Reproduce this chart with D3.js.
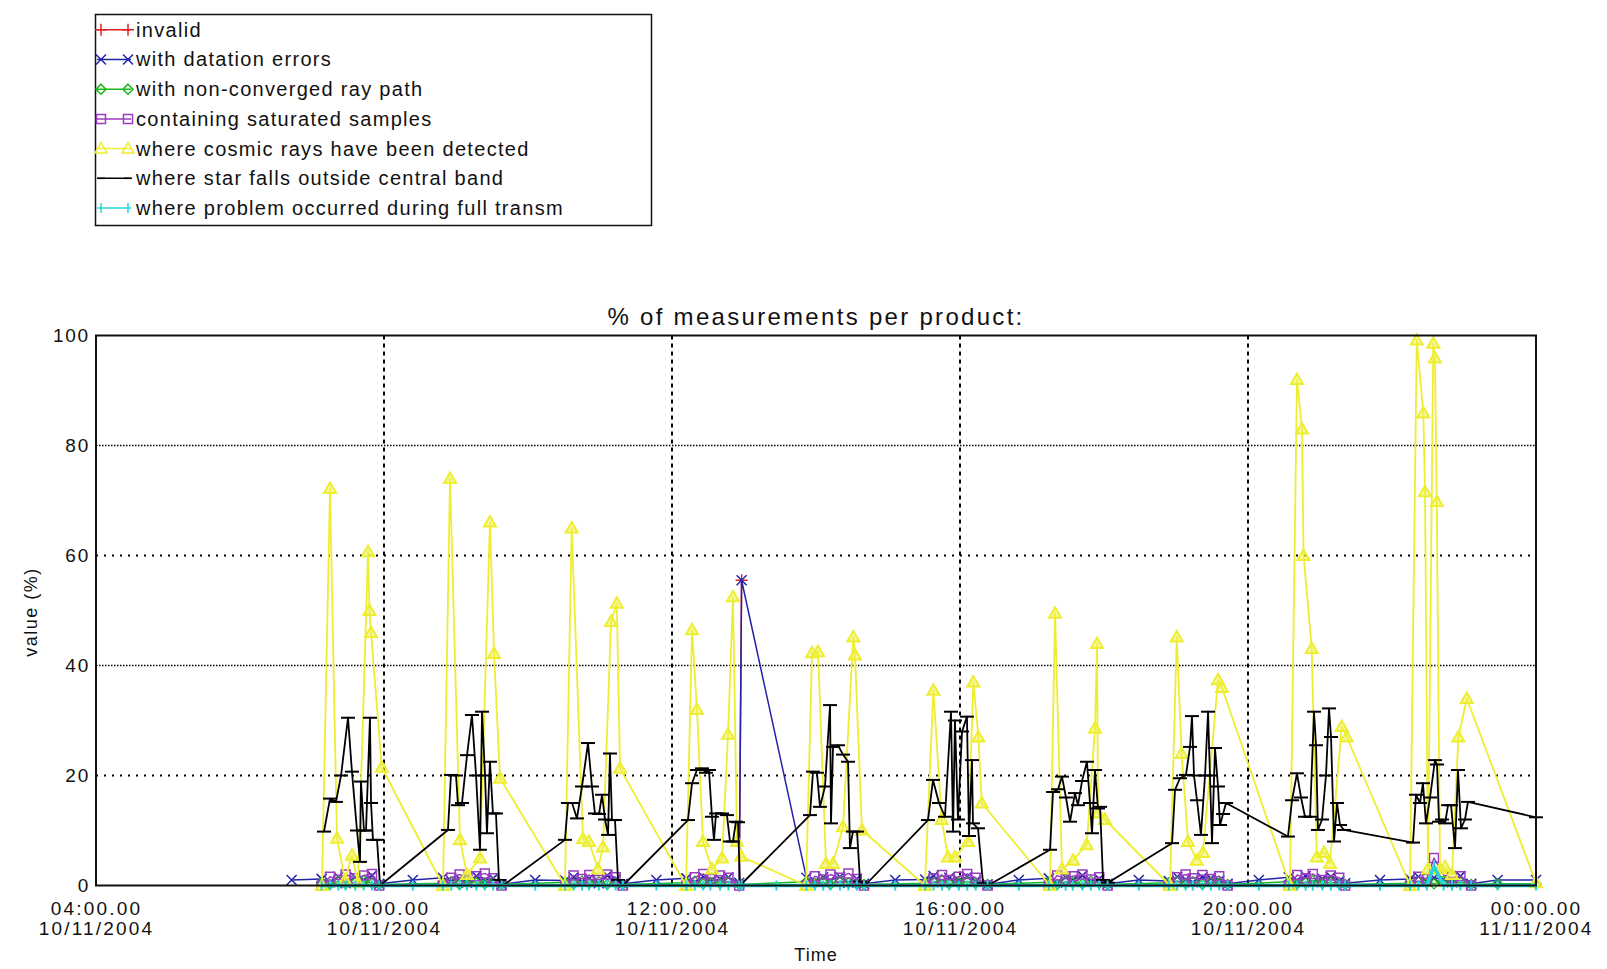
<!DOCTYPE html>
<html><head><meta charset="utf-8">
<script src="https://cdnjs.cloudflare.com/ajax/libs/d3/7.8.5/d3.min.js"></script>
<style>
html,body{margin:0;padding:0;background:#fff;}
svg{display:block;}
text{font-family:"Liberation Sans",Arial,sans-serif;fill:#111;}
</style></head><body>
<svg id="chart" width="1607" height="969"></svg>
<script>
// ---------- DATA (time = minutes of day 10/11/2004, value = %) ----------
const yTicks = [0, 20, 40, 60, 80, 100];
const xTickMinutes = [240, 480, 720, 960, 1200, 1440];
const legendLabels = [
  "invalid",
  "with datation errors",
  "with non-converged ray path",
  "containing saturated samples",
  "where cosmic rays have been detected",
  "where star falls outside central band",
  "where problem occurred during full transm"
];

// shared product times for the low-valued flags
const productTimes = [
  403,428,435,442,448,456,463,470,476,
  504,529,536,543,549,557,564,571,578,
  606,631,638,645,651,659,666,673,679,
  707,732,739,746,752,760,767,776,778,
  807,832,839,846,852,860,867,874,880,
  906,931,938,945,951,959,966,973,983,
  1009,1034,1041,1048,1054,1062,1069,1076,1083,
  1109,1134,1141,1148,1154,1162,1169,1176,1183,
  1209,1234,1241,1248,1254,1262,1269,1276,1281,
  1310,1335,1342,1349,1355,1363,1370,1377,1386,
  1408,1440
];
const invalidValues = [
  null,null,null,null,null,null,null,null,null,
  null,null,null,null,null,null,null,null,null,
  null,null,null,null,null,null,null,null,null,
  null,null,null,null,null,null,null,0,55.5,
  null,null,null,null,null,null,null,null,null,
  null,null,null,null,null,null,null,null,null,
  null,null,null,null,null,null,null,null,null,
  null,null,null,null,null,null,null,null,null,
  null,null,null,null,null,null,null,null,null,
  null,null,null,null,null,null,null,null,null,
  null,null
];
const datationValues = [
  1,1.2,0.6,1.6,0.4,1.5,1.0,1.8,0.3,
  1,1.4,0.8,1.2,0.5,1.7,0.9,1.3,0.2,
  1,0.9,1.5,0.7,1.3,0.4,1.8,1.1,0.3,
  1,1.3,0.6,1.6,0.8,1.2,1.5,0.5,55.5,
  null,1.4,0.7,1.5,0.9,1.6,0.5,1.2,0.3,
  1,1.1,1.7,0.6,1.4,0.9,1.6,0.8,0.2,
  1,1.3,0.5,1.5,1.0,1.8,0.7,1.2,0.3,
  1,0.8,1.6,1.1,0.6,1.5,1.3,0.9,0.3,
  1,1.5,0.9,1.7,0.6,1.2,1.6,0.8,0.4,
  1,1.2,1.6,0.7,1.4,1.1,0.6,1.7,0.3,
  1,1
];
const nonConvergedValues = [
  null,0.5,0.2,0.8,0.3,0.6,0.9,0.4,0.2,
  null,0.4,0.7,0.2,0.9,0.5,0.3,0.6,0.2,
  null,0.6,0.3,0.8,0.4,0.7,0.2,0.5,0.2,
  null,0.5,0.8,0.3,0.6,0.4,0.7,0.2,null,
  null,0.7,0.4,0.6,0.2,0.8,0.5,0.3,0.2,
  null,0.4,0.6,0.9,0.3,0.5,0.7,0.4,0.2,
  null,0.6,0.2,0.7,0.5,0.3,0.8,0.4,0.2,
  null,0.5,0.8,0.4,0.7,0.2,0.6,0.5,0.2,
  null,0.7,0.3,0.5,0.9,0.4,0.6,0.3,0.2,
  null,0.4,0.7,0.5,0.3,0.8,0.5,0.6,0.2,
  0.3,0.3
];
const saturatedValues = [
  null,0,1.6,1.0,2.0,1.3,1.8,2.1,0,
  null,0,1.4,2.0,1.1,1.7,2.2,1.3,0,
  null,0,1.8,1.2,1.9,1.0,2.0,1.5,0,
  null,0,1.5,2.1,1.2,1.8,1.4,0,null,
  null,0,1.7,1.1,2.0,1.4,2.2,1.2,0,
  null,0,1.3,1.9,1.0,1.6,2.1,1.4,0,
  null,0,1.8,1.2,1.7,2.0,1.1,1.5,0,
  null,0,1.5,2.0,1.3,1.9,1.2,1.7,0,
  null,0,1.9,1.3,2.1,1.0,1.8,1.4,0,
  null,0,1.6,1.2,5.0,1.9,1.4,1.7,0,
  null,null
];
const transmissionValues = [
  null,0,0,0,0,0,0,0,0,
  0,0,0,0,0,0,0,0,0,
  0,0,0,0,0,0,0,0,0,
  0,0,0,0,0,0,0,0,0,
  0,0,0,0,0,0,0,0,0,
  0,0,0,0,0,0,0,0,0,
  0,0,0,0,0,0,0,0,0,
  0,0,0,0,0,0,0,0,0,
  0,0,0,0,0,0,0,0,0,
  0,0,0,0,3.5,0,0,0,0,
  0,0
];
// [time, value]
const cosmicRays = [
  [428.3,0],[435,72.2],[440.8,8.6],[447.5,1],[453.3,5.5],[458.3,0.5],[466.7,60.7],[467.9,50],[469.2,46],[478.1,21.5],
  [529.2,0],[535,74],[543.3,8.3],[549.2,2],[560,5],[568.3,66.1],[571.7,42.2],[576.7,19.5],
  [630.8,0],[636.4,65],[645.8,8.5],[650.8,8],[658.3,3],[662.5,7],[669.2,48],[674,51.3],[676.7,21.3],
  [731.7,0],[736.7,46.5],[740.8,32],[745.8,8],[753.3,3],[761.7,5],[766.7,27.5],[770.8,52.5],[774.2,8],[777.5,5.3],
  [831.7,0],[836.7,42.3],[841.7,42.5],[848.3,4],[854.2,4],[862.5,10.7],[871.1,45.2],[872.5,41.9],[878.3,10.1],
  [930.8,0],[937.8,35.5],[944.7,12],[950,5.2],[955.8,5.2],[966.7,8],[971.1,37],[975.3,27],[978.1,15],
  [1035,0],[1039.2,49.5],[1045,3],[1054.2,4.6],[1065.6,7.4],[1072.5,28.6],[1074.2,44],[1075,13.2],[1080.8,12],
  [1135,0],[1140.6,45.2],[1144.7,24],[1150,8],[1157.3,4.6],[1162.5,6],[1175,37.4],[1178.3,36],
  [1235,0],[1240.8,92],[1245,83],[1246.3,60],[1253.1,43.1],[1257.3,5.2],[1263.3,6],[1268.3,4],[1278.1,28.9],[1282.3,27],
  [1335,0],[1340.6,99.2],[1346.1,85.9],[1347.5,71.6],[1350,3],[1354.4,98.6],[1355.8,95.9],[1357.3,69.8],[1360,3],[1364.2,3.4],[1370,2],[1375.3,27],[1382.3,34],[1440,0.5]
];
const outsideBand = [
  [430,9.8],[435,15.8],[440,15.2],[444.2,20],[450,30.5],[453.3,20.7],[457.5,10],[460,4.3],[460.8,18.9],[463.3,10],[465,10],[468.3,30.5],[469.2,15],[470.8,8.3],[474.2,8.3],[476.7,0],
  [533.3,10.1],[535.8,20.1],[540,20],[541.7,14.6],[545,15],[549.2,23.7],[553.3,31],[556.7,20],[560,6.5],[561.7,31.6],[564.2,20],[565.8,9.5],[568.3,22.5],[570.8,13.1],[573.3,13.1],[575.8,1],[579.2,0],
  [630.8,8.3],[633.3,15],[636.7,15],[640.8,12.2],[645,18],[650,25.9],[653.3,18],[655.8,13.1],[659.2,13],[661.7,16.5],[664.2,12],[666.7,9.2],[668.3,24],[670,11.9],[672.5,11.9],[675,1],[679.2,0],
  [733.3,11.9],[736.7,18.6],[740.8,21],[745,21.3],[748.3,20.5],[750.8,21],[753.3,12.5],[755,8.3],[756.7,13.1],[761.7,13.1],[765.8,12.8],[768.3,8],[770.8,8],[773.3,11.6],[775,11.5],[776.7,0],
  [835,12.8],[837.5,20.7],[840.8,20.5],[843.3,14.3],[847.5,18],[851.7,32.8],[852.5,11.3],[854.2,25.2],[858.3,25.5],[862.5,23.8],[866.7,22.5],[868.3,6.8],[870.8,9.8],[874.2,9.8],[876.7,0.7],[880.8,0],
  [933.3,11.9],[937.5,19.2],[942.5,15],[947.5,12.5],[952.5,31.6],[954.2,9.8],[955.8,30],[958.3,12],[961.7,28],[965.8,30.7],[967.5,9],[970,22.8],[970.8,11.3],[975,10.4],[979.2,0.4],[983.3,0],
  [1035,6.5],[1037.5,17],[1041.7,17.5],[1045,19.8],[1048.3,16],[1051.7,11.6],[1055.8,16.8],[1058.3,14.6],[1061.7,19],[1065.8,22.5],[1068.3,15],[1070,9.5],[1072.5,21],[1075,14],[1076.7,14.3],[1079.2,1],[1083.3,0.5],
  [1136.7,7.7],[1139.2,17.4],[1143.3,19.5],[1148.3,20.1],[1151.7,25.2],[1153.3,30.8],[1155,20],[1157.5,15.5],[1160.8,9.2],[1164.2,20],[1166.7,31.6],[1168.3,20],[1170,7.7],[1172.5,25],[1175,18],[1176.7,11],[1179.2,13],[1181.7,15],
  [1233.3,8.9],[1236.7,15.5],[1240.8,20.4],[1244.2,16],[1247.5,12.5],[1251.7,12.5],[1255,31.6],[1256.7,25.5],[1258.3,10.1],[1261.7,12],[1265,20],[1267.5,32.2],[1269.2,27],[1271.7,8],[1274.2,15],[1276.7,11],[1280,10.1],
  [1337.5,7.8],[1340,16.5],[1343.3,15],[1345.8,18.6],[1348.3,11.3],[1351.7,16],[1355.8,22.8],[1357.5,22],[1359.2,11.6],[1361.7,12],[1364.2,11.3],[1366.7,14.6],[1369.2,14.6],[1372.5,6.8],[1375,21],[1377.5,10.4],[1380.8,12],[1383.3,15.2],[1440,12.4]
];

// ---------- CHART ----------
const svg = d3.select("#chart");
const M = {left: 96, right: 1536, top: 335.5, bottom: 885.5};
const day0 = Date.UTC(2004, 10, 10);
const toDate = m => new Date(day0 + m * 60000);
const x = d3.scaleUtc().domain([toDate(240), toDate(1440)]).range([M.left, M.right]);
const y = d3.scaleLinear().domain([0, 100]).range([M.bottom, M.top]);

const shapes = {
  plus: "M-6,0H6M0,-6V6",
  cross: "M-5,-5L5,5M-5,5L5,-5",
  diamond: "M0,-5L5,0L0,5L-5,0Z",
  square: "M-4.5,-4.5H4.5V4.5H-4.5Z",
  triangle: "M0,-6L6,4.5H-6Z",
  hbar: "M-7,0H7",
  vbar: "M0,-5V5"
};

const pair = vals => productTimes.map((t, i) => [t, vals[i]]).filter(d => d[1] != null);
const series = [
  {pts: pair(invalidValues), color: "#e02020", marker: "plus", lw: 1.5, mw: 1.5, fill: "none"},
  {pts: pair(datationValues), color: "#2424a8", marker: "cross", lw: 1.5, mw: 1.5, fill: "none"},
  {pts: pair(nonConvergedValues), color: "#18b818", marker: "diamond", lw: 1.5, mw: 1.3, fill: "none"},
  {pts: pair(saturatedValues), color: "#9a3cc0", marker: "square", lw: 1.5, mw: 1.5, fill: "none"},
  {pts: cosmicRays, color: "#eeee30", marker: "triangle", lw: 1.8, mw: 2, fill: "rgba(240,240,80,0.55)"},
  {pts: outsideBand, color: "#000000", marker: "hbar", lw: 1.8, mw: 2, fill: "none"},
  {pts: pair(transmissionValues), color: "#26d4dc", marker: "vbar", lw: 3.5, mw: 2, fill: "none"}
];

// gridlines
const grid = svg.append("g");
[20, 40, 60, 80].forEach(v => {
  const dense = (v === 40 || v === 80);
  grid.append("line").attr("x1", M.left).attr("x2", M.right).attr("y1", y(v)).attr("y2", y(v))
    .attr("stroke", "#000").attr("stroke-width", dense ? 1.4 : 2)
    .attr("stroke-dasharray", dense ? "1.5,1.5" : "2,6");
});
xTickMinutes.slice(1, -1).forEach(m => {
  grid.append("line").attr("x1", x(toDate(m))).attr("x2", x(toDate(m))).attr("y1", M.top).attr("y2", M.bottom)
    .attr("stroke", "#000").attr("stroke-width", 2).attr("stroke-dasharray", "4,4");
});

// series
const line = d3.line().x(d => x(toDate(d[0]))).y(d => y(d[1]));
series.forEach(s => {
  const g = svg.append("g");
  g.append("path").datum(s.pts).attr("d", line).attr("fill", "none")
    .attr("stroke", s.color).attr("stroke-width", s.lw).attr("stroke-linejoin", "round");
  g.selectAll("path.m").data(s.pts).join("path").attr("class", "m")
    .attr("transform", d => `translate(${x(toDate(d[0]))},${y(d[1])})`)
    .attr("d", shapes[s.marker]).attr("fill", s.fill)
    .attr("stroke", s.color).attr("stroke-width", s.mw);
});

// frame
svg.append("rect").attr("x", M.left).attr("y", M.top).attr("width", M.right - M.left).attr("height", M.bottom - M.top)
  .attr("fill", "none").attr("stroke", "#111").attr("stroke-width", 2);

// axes
const yAxis = svg.append("g").attr("transform", `translate(${M.left},0)`)
  .call(d3.axisLeft(y).tickValues(yTicks).tickSize(0).tickPadding(6).tickFormat(d3.format("d")));
yAxis.select(".domain").remove();
yAxis.selectAll("text").attr("font-size", 19).attr("letter-spacing", 1.8)
  .attr("font-family", "Liberation Sans, Arial, sans-serif").attr("fill", "#111");

const fmtT = d3.utcFormat("%H:%M.%S"), fmtD = d3.utcFormat("%d/%m/%Y");
const xAxis = svg.append("g").attr("transform", `translate(0,${M.bottom})`)
  .call(d3.axisBottom(x).tickValues(xTickMinutes.map(toDate)).tickSize(0));
xAxis.select(".domain").remove();
xAxis.selectAll(".tick text").each(function(d) {
  const t = d3.select(this);
  t.text(null).attr("y", null).attr("dy", null).attr("font-size", 19).attr("letter-spacing", 2.2)
    .attr("font-family", "Liberation Sans, Arial, sans-serif").attr("fill", "#111");
  t.append("tspan").attr("x", 0).attr("y", 29.5).text(fmtT(d));
  t.append("tspan").attr("x", 0).attr("y", 49).text(fmtD(d));
});

// titles
svg.append("text").attr("x", 816).attr("y", 324.5).attr("text-anchor", "middle")
  .attr("font-size", 24).attr("letter-spacing", 2.3).text("% of measurements per product:");
svg.append("text").attr("x", 816).attr("y", 961).attr("text-anchor", "middle")
  .attr("font-size", 18).attr("letter-spacing", 1).text("Time");
svg.append("text").attr("transform", "translate(31,612) rotate(-90)").attr("text-anchor", "middle")
  .attr("dy", "0.35em").attr("font-size", 18).attr("letter-spacing", 1.5).text("value (%)");

// legend
const lg = svg.append("g");
lg.append("rect").attr("x", 95.5).attr("y", 14.5).attr("width", 556).attr("height", 211)
  .attr("fill", "#fff").attr("stroke", "#111").attr("stroke-width", 1.5);
series.forEach((s, i) => {
  const yy = 29.7 + i * 29.73;
  const row = lg.append("g");
  row.append("line").attr("x1", 97).attr("x2", 131).attr("y1", yy).attr("y2", yy)
    .attr("stroke", s.color).attr("stroke-width", 1.5);
  [101, 128].forEach(cx => row.append("path").attr("transform", `translate(${cx},${yy})`)
    .attr("d", s.marker === "hbar" ? "M-4,0H4" : shapes[s.marker]).attr("fill", "none")
    .attr("stroke", s.color).attr("stroke-width", 1.5));
  row.append("text").attr("x", 136).attr("y", yy + 7).attr("font-size", 20).attr("letter-spacing", 1.3)
    .text(legendLabels[i]);
});
</script>
</body></html>
